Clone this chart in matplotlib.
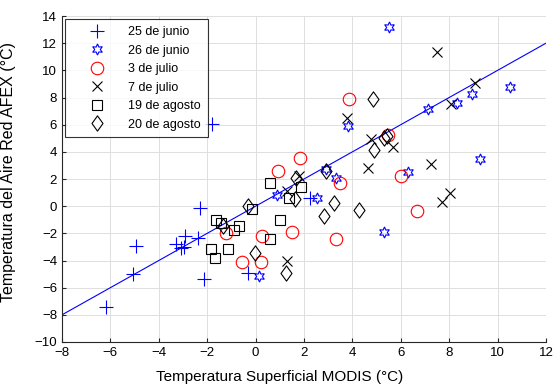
import matplotlib
matplotlib.use("Agg")
import matplotlib.pyplot as plt
from matplotlib.path import Path
import numpy as np

plt.rcParams['font.family'] = ['Liberation Sans', 'DejaVu Sans']

# 25 de junio
jun25_x = [-6.17, -5.07, -4.93, -3.28, -2.93, -3.10, -2.95, -2.38, -2.31, -2.14, -1.81, -0.32, 2.23]
jun25_y = [-7.44, -5.03, -2.92, -2.75, -2.19, -3.07, -3.00, -2.38, -0.17, -5.38, 6.04, -4.91, 0.57]
# 26 de junio
jun26_x = [0.90, 0.12, 2.55, 2.89, 3.31, 3.81, 5.29, 5.51, 6.29, 7.12, 8.32, 8.94, 9.26, 10.52]
jun26_y = [0.81, -5.15, 0.57, 2.72, 2.04, 5.89, -1.91, 13.20, 2.53, 7.14, 7.56, 8.25, 3.44, 8.79]
# 3 de julio
jul3_x = [-1.21, -0.58, 0.23, 0.28, 0.92, 1.50, 1.82, 3.33, 3.47, 3.88, 5.47, 6.02, 6.67]
jul3_y = [-2.01, -4.10, -4.10, -2.21, 2.60, -1.89, 3.51, -2.40, 1.70, 7.90, 5.23, 2.23, -0.37]
# 7 de julio
jul7_x = [1.29, 1.29, 1.80, 3.79, 4.64, 4.78, 5.67, 7.23, 7.49, 7.70, 8.04, 8.09, 9.05]
jul7_y = [1.13, -4.03, 2.20, 6.50, 2.82, 4.91, 4.34, 3.14, 11.36, 0.32, 0.98, 7.51, 9.10]
# 19 de agosto
ago19_x = [0.58, 1.89, 1.40, -0.15, -1.65, -1.42, -0.91, -0.70, 1.02, 0.61, -1.83, -1.14, -1.67]
ago19_y = [1.67, 1.42, 0.61, -0.22, -1.03, -1.27, -1.72, -1.47, -1.03, -2.43, -3.12, -3.12, -3.85]
# 20 de agosto
ago20_x = [-1.35, -0.32, -0.03, 1.27, 1.61, 1.68, 2.82, 2.92, 3.26, 4.27, 4.85, 4.88, 5.30, 5.45]
ago20_y = [-1.45, 0.00, -3.48, -4.91, 0.50, 2.11, -0.74, 2.60, 0.25, -0.29, 7.86, 4.12, 5.00, 5.15]

fit_x = [-8, 12]
fit_y = [-8, 12]

diamond = Path([(0, 1), (0.72, 0), (0, -1), (-0.72, 0), (0, 1)],
               [Path.MOVETO, Path.LINETO, Path.LINETO, Path.LINETO, Path.CLOSEPOLY])

fig = plt.figure(figsize=(5.55, 3.86), dpi=100)
ax = fig.add_axes([0.1117, 0.114, 0.8721, 0.8445])

blue = '#0000FF'
red = '#FF0000'
ax.plot(fit_x, fit_y, color=blue, lw=0.8, zorder=2)

ax.plot(jun25_x, jun25_y, ls='none', marker='+', ms=10.5, mew=0.8, color=blue, label='25 de junio', zorder=3)
ax.plot(jun26_x, jun26_y, ls='none', marker=(6, 1, 0), ms=8, mew=0.8, mfc='none', mec=blue, label='26 de junio', zorder=3)
ax.plot(jul3_x, jul3_y, ls='none', marker='o', ms=9, mew=0.8, mfc='none', mec=red, label='3 de julio', zorder=3)
ax.plot(jul7_x, jul7_y, ls='none', marker='x', ms=6.5, mew=0.8, color='black', label='7 de julio', zorder=3)
ax.plot(ago19_x, ago19_y, ls='none', marker='s', ms=7, mew=0.8, mfc='none', mec='black', label='19 de agosto', zorder=3)
ax.plot(ago20_x, ago20_y, ls='none', marker=diamond, ms=11, mew=0.8, mfc='none', mec='black', label='20 de agosto', zorder=3)

ax.set_xlim(-8, 12)
ax.set_ylim(-10, 14)
ax.set_xticks(np.arange(-8, 13, 2))
ax.set_yticks(np.arange(-10, 15, 2))
ax.grid(True, color='#dedede', lw=0.7)
ax.set_axisbelow(True)
for s in ['top', 'right']:
    ax.spines[s].set_visible(False)
for s in ['left', 'bottom']:
    ax.spines[s].set_color('#262626')
    ax.spines[s].set_linewidth(0.8)
ax.tick_params(direction='in', length=3, width=0.8, colors='#262626', labelsize=9.5, labelcolor='black')
ax.set_xlabel('Temperatura Superficial MODIS (°C)', fontsize=11, labelpad=7)
ax.xaxis.set_label_coords(0.45, -0.085)
ax.set_ylabel('Temperatura del Aire Red AFEX (°C)', fontsize=11.5)
ax.yaxis.set_label_coords(-0.095, 0.52)

leg = ax.legend(loc='upper left', fontsize=9, frameon=True, fancybox=False,
                edgecolor='black', borderaxespad=0.25, handlelength=4.0,
                handletextpad=0.5, labelspacing=0.52, borderpad=0.55)
leg.get_frame().set_linewidth(0.8)

fig.savefig('out.png', dpi=100)
